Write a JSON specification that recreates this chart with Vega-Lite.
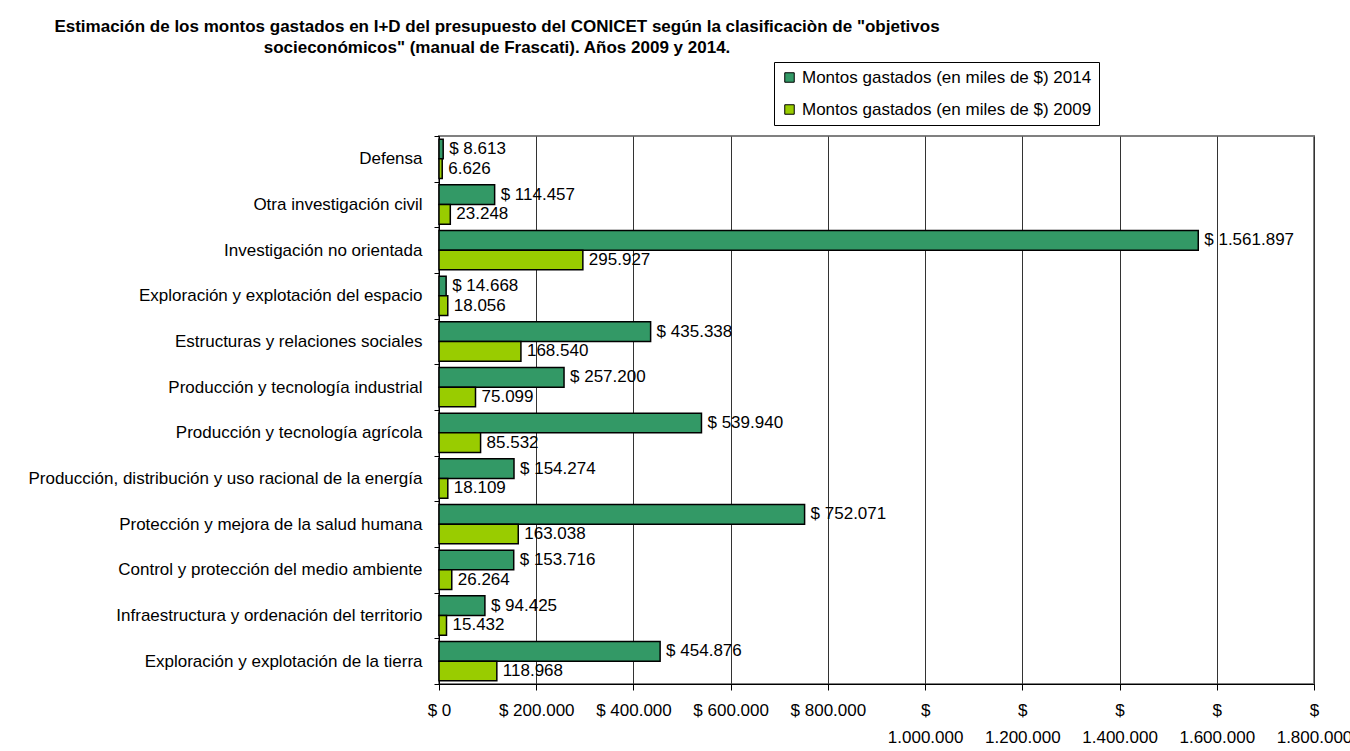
{
  "$schema": "https://vega.github.io/schema/vega-lite/v6.json",
  "width": 875,
  "height": 548,
  "autosize": {"type": "none"},
  "padding": {"left": 439, "top": 136, "right": 36, "bottom": 67},
  "background": "white",
  "config": {
    "locale": {"number": {"decimal": ",", "thousands": ".", "grouping": [3], "currency": ["$ ", ""]}},
    "font": "Liberation Sans",
    "view": {"stroke": "#808080", "strokeWidth": 2}
  },
  "title": {
    "text": ["Estimación de los montos gastados en I+D del presupuesto del CONICET según la clasificaciòn de \"objetivos", "socieconómicos\" (manual de Frascati). Años 2009 y 2014."],
    "font": "Liberation Sans",
    "fontSize": 17,
    "fontWeight": "bold",
    "color": "black",
    "anchor": "start",
    "frame": "group",
    "align": "center",
    "dx": 58,
    "offset": 5,
    "lineHeight": 21
  },
  "data": {
    "values": [
      {"cat": "Defensa", "serie": "Montos gastados (en miles de $) 2014", "value": 8613},
      {"cat": "Defensa", "serie": "Montos gastados (en miles de $) 2009", "value": 6626},
      {"cat": "Otra investigación civil", "serie": "Montos gastados (en miles de $) 2014", "value": 114457},
      {"cat": "Otra investigación civil", "serie": "Montos gastados (en miles de $) 2009", "value": 23248},
      {"cat": "Investigación no orientada", "serie": "Montos gastados (en miles de $) 2014", "value": 1561897},
      {"cat": "Investigación no orientada", "serie": "Montos gastados (en miles de $) 2009", "value": 295927},
      {"cat": "Exploración y explotación del espacio", "serie": "Montos gastados (en miles de $) 2014", "value": 14668},
      {"cat": "Exploración y explotación del espacio", "serie": "Montos gastados (en miles de $) 2009", "value": 18056},
      {"cat": "Estructuras y relaciones sociales", "serie": "Montos gastados (en miles de $) 2014", "value": 435338},
      {"cat": "Estructuras y relaciones sociales", "serie": "Montos gastados (en miles de $) 2009", "value": 168540},
      {"cat": "Producción y tecnología industrial", "serie": "Montos gastados (en miles de $) 2014", "value": 257200},
      {"cat": "Producción y tecnología industrial", "serie": "Montos gastados (en miles de $) 2009", "value": 75099},
      {"cat": "Producción y tecnología agrícola", "serie": "Montos gastados (en miles de $) 2014", "value": 539940},
      {"cat": "Producción y tecnología agrícola", "serie": "Montos gastados (en miles de $) 2009", "value": 85532},
      {"cat": "Producción, distribución y uso racional de la energía", "serie": "Montos gastados (en miles de $) 2014", "value": 154274},
      {"cat": "Producción, distribución y uso racional de la energía", "serie": "Montos gastados (en miles de $) 2009", "value": 18109},
      {"cat": "Protección y mejora de la salud humana", "serie": "Montos gastados (en miles de $) 2014", "value": 752071},
      {"cat": "Protección y mejora de la salud humana", "serie": "Montos gastados (en miles de $) 2009", "value": 163038},
      {"cat": "Control y protección del medio ambiente", "serie": "Montos gastados (en miles de $) 2014", "value": 153716},
      {"cat": "Control y protección del medio ambiente", "serie": "Montos gastados (en miles de $) 2009", "value": 26264},
      {"cat": "Infraestructura y ordenación del territorio", "serie": "Montos gastados (en miles de $) 2014", "value": 94425},
      {"cat": "Infraestructura y ordenación del territorio", "serie": "Montos gastados (en miles de $) 2009", "value": 15432},
      {"cat": "Exploración y explotación de la tierra", "serie": "Montos gastados (en miles de $) 2014", "value": 454876},
      {"cat": "Exploración y explotación de la tierra", "serie": "Montos gastados (en miles de $) 2009", "value": 118968}
    ]
  },
  "transform": [
    {"calculate": "(indexof(datum.serie, '2014') >= 0 ? '$ ' : '') + format(datum.value, ',')", "as": "label"}
  ],
  "encoding": {
    "y": {
      "field": "cat",
      "type": "nominal",
      "sort": null,
      "scale": {"paddingInner": 0, "paddingOuter": 0},
      "axis": {
        "title": null,
        "tickBand": "extent",
        "domainColor": "black",
        "tickColor": "black",
        "tickSize": 5,
        "labelPadding": 12,
        "labelFontSize": 17,
        "labelColor": "black",
        "labelFont": "Liberation Sans",
        "labelLimit": 600,
        "grid": false
      }
    },
    "yOffset": {
      "field": "serie",
      "type": "nominal",
      "sort": ["Montos gastados (en miles de $) 2014", "Montos gastados (en miles de $) 2009"],
      "scale": {"paddingInner": 0, "paddingOuter": 0.16}
    },
    "x": {
      "field": "value",
      "type": "quantitative",
      "scale": {"domain": [0, 1800000], "nice": false},
      "axis": {
        "title": null,
        "values": [0, 200000, 400000, 600000, 800000, 1000000, 1200000, 1400000, 1600000, 1800000],
        "labelExpr": "datum.value >= 1000000 ? ['$', format(datum.value, ',')] : '$ ' + format(datum.value, ',')",
        "labelBaseline": "top",
        "labelPadding": 12,
        "labelLineHeight": 27,
        "labelFontSize": 17,
        "labelColor": "black",
        "labelFont": "Liberation Sans",
        "labelFlush": false,
        "labelOverlap": false,
        "domainColor": "black",
        "tickColor": "black",
        "tickSize": 6,
        "grid": true,
        "gridColor": "#333333",
        "gridOpacity": 1,
        "gridWidth": 1
      }
    }
  },
  "layer": [
    {
      "mark": {"type": "bar", "stroke": "black", "strokeWidth": 1.5},
      "encoding": {
        "color": {
          "field": "serie",
          "type": "nominal",
          "scale": {
            "domain": ["Montos gastados (en miles de $) 2014", "Montos gastados (en miles de $) 2009"],
            "range": ["#339966", "#99CC00"]
          },
          "legend": {
            "title": null,
            "orient": "none",
            "legendX": 335,
            "legendY": -74,
            "symbolType": "square",
            "symbolSize": 90,
            "symbolStrokeColor": "black",
            "symbolStrokeWidth": 1,
            "labelFontSize": 17,
            "labelFont": "Liberation Sans",
            "labelColor": "black",
            "labelLimit": 400,
            "rowPadding": 14,
            "padding": 7,
            "strokeColor": "black",
            "fillColor": "white",
            "symbolOffset": 0
          }
        }
      }
    },
    {
      "mark": {"type": "text", "align": "left", "baseline": "middle", "dx": 6, "fontSize": 17, "font": "Liberation Sans", "color": "black"},
      "encoding": {"text": {"field": "label"}}
    }
  ]
}
